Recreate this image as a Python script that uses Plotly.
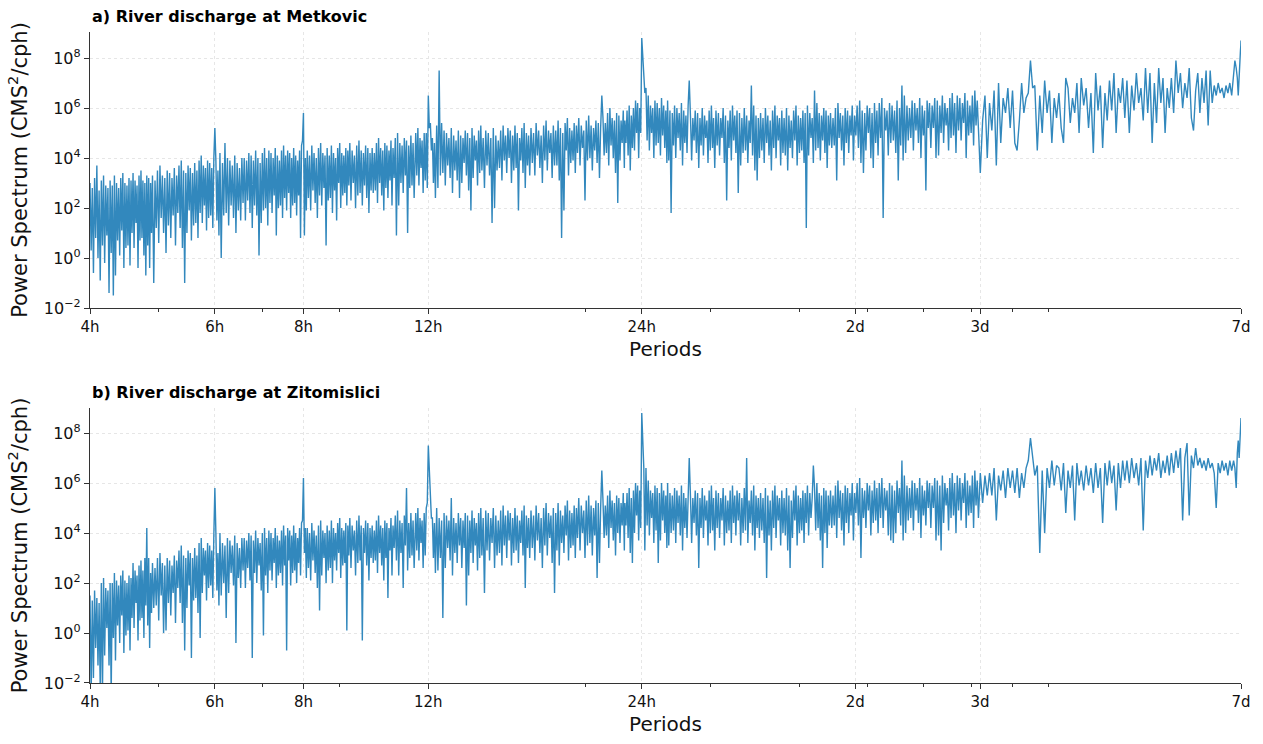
import math
import plotly.graph_objects as go

# Periods (hours) at which the spectra are sampled
period_hours = [
    4.000, 4.015, 4.030, 4.045, 4.060, 4.075, 4.090, 4.105, 4.120, 4.135, 4.150, 4.165, 4.180, 4.195, 4.210, 4.225, 4.240, 4.255, 4.270, 4.285,
    4.300, 4.315, 4.330, 4.345, 4.360, 4.375, 4.390, 4.405, 4.420, 4.435, 4.450, 4.465, 4.480, 4.495, 4.510, 4.525, 4.540, 4.555, 4.570, 4.585,
    4.600, 4.615, 4.630, 4.645, 4.660, 4.675, 4.690, 4.705, 4.720, 4.735, 4.750, 4.765, 4.780, 4.795, 4.810, 4.825, 4.840, 4.855, 4.870, 4.885,
    4.90, 4.92, 4.94, 4.96, 4.98, 5.00, 5.02, 5.04, 5.06, 5.08, 5.10, 5.12, 5.14, 5.16, 5.18, 5.20, 5.22, 5.24, 5.26, 5.28,
    5.30, 5.32, 5.34, 5.36, 5.38, 5.40, 5.42, 5.44, 5.46, 5.48, 5.50, 5.52, 5.54, 5.56, 5.58, 5.60, 5.62, 5.64, 5.66, 5.68,
    5.70, 5.72, 5.74, 5.76, 5.78, 5.80, 5.82, 5.84, 5.86, 5.88, 5.90, 5.92, 5.94, 5.96, 5.98, 6.00, 6.02, 6.04, 6.06, 6.08,
    6.100, 6.125, 6.150, 6.175, 6.200, 6.225, 6.250, 6.275, 6.300, 6.325, 6.350, 6.375, 6.400, 6.425, 6.450, 6.475, 6.500, 6.525, 6.550, 6.575,
    6.600, 6.625, 6.650, 6.675, 6.700, 6.725, 6.750, 6.775, 6.800, 6.825, 6.850, 6.875, 6.900, 6.925, 6.950, 6.975, 7.000, 7.025, 7.050, 7.075,
    7.100, 7.125, 7.150, 7.175, 7.200, 7.225, 7.250, 7.275, 7.300, 7.325, 7.350, 7.375, 7.400, 7.425, 7.450, 7.475, 7.500, 7.525, 7.550, 7.575,
    7.600, 7.625, 7.650, 7.675, 7.700, 7.725, 7.750, 7.775, 7.800, 7.825, 7.850, 7.875, 7.900, 7.925, 7.950, 7.975, 8.000, 8.025, 8.050, 8.075,
    8.10, 8.13, 8.16, 8.19, 8.22, 8.25, 8.28, 8.31, 8.34, 8.37, 8.40, 8.43, 8.46, 8.49, 8.52, 8.55, 8.58, 8.61, 8.64, 8.67,
    8.70, 8.73, 8.76, 8.79, 8.82, 8.85, 8.88, 8.91, 8.94, 8.97, 9.00, 9.03, 9.06, 9.09, 9.12, 9.15, 9.18, 9.21, 9.24, 9.27,
    9.300, 9.335, 9.370, 9.405, 9.440, 9.475, 9.510, 9.545, 9.580, 9.615, 9.650, 9.685, 9.720, 9.755, 9.790, 9.825, 9.860, 9.895, 9.930, 9.965,
    10.000, 10.035, 10.070, 10.105, 10.140, 10.175, 10.210, 10.245, 10.280, 10.315, 10.350, 10.385, 10.420, 10.455, 10.490, 10.525, 10.560, 10.595, 10.630, 10.665,
    10.70, 10.74, 10.78, 10.82, 10.86, 10.90, 10.94, 10.98, 11.02, 11.06, 11.10, 11.14, 11.18, 11.22, 11.26, 11.30, 11.34, 11.38, 11.42, 11.46,
    11.52, 11.56, 11.60, 11.64, 11.68, 11.72, 11.76, 11.80, 11.84, 11.88, 11.92, 11.96, 12.00, 12.04, 12.08, 12.12, 12.16, 12.20, 12.24, 12.28,
    12.33, 12.38, 12.43, 12.48, 12.53, 12.58, 12.63, 12.68, 12.73, 12.78, 12.83, 12.88, 12.93, 12.98, 13.03, 13.08, 13.13, 13.18, 13.23, 13.28,
    13.33, 13.38, 13.43, 13.48, 13.53, 13.58, 13.63, 13.68, 13.73, 13.78, 13.83, 13.88, 13.93, 13.98, 14.03, 14.08, 14.13, 14.18, 14.23, 14.28,
    14.34, 14.40, 14.46, 14.52, 14.58, 14.64, 14.70, 14.76, 14.82, 14.88, 14.94, 15.00, 15.06, 15.12, 15.18, 15.24, 15.30, 15.36, 15.42, 15.48,
    15.54, 15.60, 15.66, 15.72, 15.78, 15.84, 15.90, 15.96, 16.02, 16.08, 16.14, 16.20, 16.26, 16.32, 16.38, 16.44, 16.50, 16.56, 16.62, 16.68,
    16.75, 16.82, 16.89, 16.96, 17.03, 17.10, 17.17, 17.24, 17.31, 17.38, 17.45, 17.52, 17.59, 17.66, 17.73, 17.80, 17.87, 17.94, 18.01, 18.08,
    18.15, 18.22, 18.29, 18.36, 18.43, 18.50, 18.57, 18.64, 18.71, 18.78, 18.85, 18.92, 18.99, 19.06, 19.13, 19.20, 19.27, 19.34, 19.41, 19.48,
    19.56, 19.64, 19.72, 19.80, 19.88, 19.96, 20.04, 20.12, 20.20, 20.28, 20.36, 20.44, 20.52, 20.60, 20.68, 20.76, 20.84, 20.92, 21.00, 21.08,
    21.16, 21.24, 21.32, 21.40, 21.48, 21.56, 21.64, 21.72, 21.80, 21.88, 21.96, 22.04, 22.12, 22.20, 22.28, 22.36, 22.44, 22.52, 22.60, 22.68,
    22.72, 22.80, 22.88, 22.96, 23.04, 23.12, 23.20, 23.28, 23.36, 23.44, 23.52, 23.60, 23.68, 23.76, 23.84, 23.92, 24.00, 24.08, 24.16, 24.24,
    24.33, 24.42, 24.51, 24.60, 24.69, 24.78, 24.87, 24.96, 25.05, 25.14, 25.23, 25.32, 25.41, 25.50, 25.59, 25.68, 25.77, 25.86, 25.95, 26.04,
    26.10, 26.20, 26.30, 26.40, 26.50, 26.60, 26.70, 26.80, 26.90, 27.00, 27.10, 27.20, 27.30, 27.40, 27.50, 27.60, 27.70, 27.80, 27.90, 28.00,
    28.11, 28.22, 28.33, 28.44, 28.55, 28.66, 28.77, 28.88, 28.99, 29.10, 29.21, 29.32, 29.43, 29.54, 29.65, 29.76, 29.87, 29.98, 30.09, 30.20,
    30.30, 30.42, 30.54, 30.66, 30.78, 30.90, 31.02, 31.14, 31.26, 31.38, 31.50, 31.62, 31.74, 31.86, 31.98, 32.10, 32.22, 32.34, 32.46, 32.58,
    32.70, 32.83, 32.96, 33.09, 33.22, 33.35, 33.48, 33.61, 33.74, 33.87, 34.00, 34.13, 34.26, 34.39, 34.52, 34.65, 34.78, 34.91, 35.04, 35.17,
    35.30, 35.44, 35.58, 35.72, 35.86, 36.00, 36.14, 36.28, 36.42, 36.56, 36.70, 36.84, 36.98, 37.12, 37.26, 37.40, 37.54, 37.68, 37.82, 37.96,
    38.10, 38.25, 38.40, 38.55, 38.70, 38.85, 39.00, 39.15, 39.30, 39.45, 39.60, 39.75, 39.90, 40.05, 40.20, 40.35, 40.50, 40.65, 40.80, 40.95,
    41.10, 41.26, 41.42, 41.58, 41.74, 41.90, 42.06, 42.22, 42.38, 42.54, 42.70, 42.86, 43.02, 43.18, 43.34, 43.50, 43.66, 43.82, 43.98, 44.14,
    44.30, 44.48, 44.66, 44.84, 45.02, 45.20, 45.38, 45.56, 45.74, 45.92, 46.10, 46.28, 46.46, 46.64, 46.82, 47.00, 47.18, 47.36, 47.54, 47.72,
    47.90, 48.10, 48.30, 48.50, 48.70, 48.90, 49.10, 49.30, 49.50, 49.70, 49.90, 50.10, 50.30, 50.50, 50.70, 50.90, 51.10, 51.30, 51.50, 51.70,
    51.90, 52.12, 52.34, 52.56, 52.78, 53.00, 53.22, 53.44, 53.66, 53.88, 54.10, 54.32, 54.54, 54.76, 54.98, 55.20, 55.42, 55.64, 55.86, 56.08,
    56.30, 56.54, 56.78, 57.02, 57.26, 57.50, 57.74, 57.98, 58.22, 58.46, 58.70, 58.94, 59.18, 59.42, 59.66, 59.90, 60.14, 60.38, 60.62, 60.86,
    61.10, 61.36, 61.62, 61.88, 62.14, 62.40, 62.66, 62.92, 63.18, 63.44, 63.70, 63.96, 64.22, 64.48, 64.74, 65.00, 65.26, 65.52, 65.78, 66.04,
    66.30, 66.58, 66.86, 67.14, 67.42, 67.70, 67.98, 68.26, 68.54, 68.82, 69.10, 69.38, 69.66, 69.94, 70.22, 70.50, 70.78, 71.06, 71.34, 71.62,
    72.05, 72.60, 73.15, 73.70,
    74.25, 74.80, 75.35, 75.90, 76.45, 77.00, 77.60, 78.20, 78.80, 79.40,
    80.00, 80.60, 81.20, 81.80, 82.40, 83.00, 83.60, 84.20, 84.80, 85.40,
    86.00, 86.70, 87.40, 88.10, 88.80, 89.50, 90.20, 90.90, 91.60, 92.30,
    93.00, 93.70, 94.40, 95.10, 95.80, 96.50, 97.20, 97.90, 98.60, 99.30,
    100.0, 100.8, 101.6, 102.4, 103.2, 104.0, 104.8, 105.6, 106.4, 107.2,
    108.0, 108.8, 109.6, 110.4, 111.2, 112.0, 112.8, 113.6, 114.4, 115.2,
    116.0, 116.9, 117.8, 118.7, 119.6, 120.5, 121.4, 122.3, 123.2, 124.1,
    125.0, 125.9, 126.8, 127.7, 128.6, 129.5, 130.4, 131.3, 132.2, 133.1,
    134.0, 135.0, 136.0, 137.0, 138.0, 139.0, 140.0, 141.0, 142.0, 143.0,
    144.0, 145.0, 146.0, 147.0, 148.0, 149.0, 150.0, 151.0, 152.0, 153.0,
    154.0, 155.0, 156.0, 157.0, 158.0, 159.0, 160.0, 161.0, 162.0, 163.0,
    164.0, 164.7, 165.4, 166.0, 166.5, 167.0, 167.4, 167.7, 167.9, 168.0,
]

# log10 of power spectrum (CMS^2/cph) (Metkovic)
log10_power_metkovic = [
    3.0, 0.3, 2.8, -0.6, 3.2, 0.8, 3.7, 0.0, 2.7, -0.9, 3.1, 0.5, 3.3, -0.2, 2.9, 0.9, 2.8, -1.4, 3.1, 0.2,
    2.9, -1.5, 3.3, -0.7, 3.0, 0.7, 2.8, 0.1, 3.2, 1.1, 3.4, -0.4, 3.0, 0.4, 2.9, 0.5, 3.2, -0.3, 3.1, 1.0,
    3.4, 0.4, 3.1, 1.4, 2.9, -0.4, 3.3, 0.7, 3.5, 0.8, 3.1, 0.1, 3.0, -0.7, 3.3, 0.5, 3.2, -0.4, 3.0, 1.0,
    3.3, -1.0, 3.1, 1.2, 3.5, 0.6, 3.7, 1.6, 3.3, 1.0, 3.2, 0.2, 3.5, 1.3, 3.4, 0.8, 3.2, 1.7, 3.6, 0.5,
    3.3, 1.8, 3.7, 1.2, 3.9, 0.4, 3.5, -1.0, 3.4, 1.0, 3.7, 1.9, 3.6, 0.7, 3.4, 1.3, 3.8, 1.4, 3.5, 0.8,
    3.9, 1.8, 4.1, 1.4, 3.7, 2.1, 3.6, 1.1, 3.9, 1.6, 3.8, 1.7, 3.6, 1.2, 4.0, 5.2, 3.9, 1.5, 3.5, 0.9,
    4.2, 0.0, 3.8, 1.7, 4.6, 1.8, 4.0, 1.3, 3.9, 2.1, 3.7, 1.6, 4.1, 1.0, 3.8, 1.9, 3.6, 1.5, 4.0, 2.2,
    4.0, 1.5, 3.9, 2.3, 4.2, 1.8, 4.1, 1.2, 3.9, 2.1, 4.3, 1.7, 4.0, 0.1, 3.8, 1.4, 4.2, 1.9, 4.4, 2.0,
    4.0, 1.3, 4.3, 2.2, 4.2, 1.8, 4.0, 2.5, 4.4, 0.9, 4.1, 2.0, 3.9, 2.1, 4.3, 1.6, 4.5, 2.4, 4.1, 1.9,
    4.3, 2.6, 4.2, 1.6, 4.0, 2.1, 4.4, 2.2, 4.1, 1.7, 3.9, 2.5, 4.3, 0.8, 4.5, 4.7, 5.8, 0.9, 4.0, 1.9,
    4.3, 2.4, 4.1, 1.9, 4.5, 2.7, 4.2, 2.2, 4.0, 1.6, 4.4, 2.5, 4.6, 2.1, 4.2, 2.8, 4.1, 0.5, 4.4, 2.3,
    4.1, 2.4, 4.5, 1.8, 4.2, 2.7, 4.0, 1.5, 4.4, 3.0, 4.6, 2.0, 4.2, 2.5, 4.1, 2.6, 4.4, 2.1, 4.3, 2.9,
    4.6, 2.3, 4.3, 3.0, 4.1, 2.0, 4.5, 2.5, 4.7, 2.6, 4.3, 2.1, 4.2, 2.9, 4.5, 2.4, 4.4, 1.8, 4.2, 2.7,
    4.4, 2.6, 4.2, 2.7, 4.6, 2.2, 4.8, 3.0, 4.4, 2.5, 4.3, 1.9, 4.6, 2.8, 4.5, 2.4, 4.3, 3.1, 4.7, 2.1,
    4.4, 3.2, 4.8, 0.9, 5.0, 2.1, 4.6, 3.0, 4.5, 2.6, 4.8, 3.3, 4.7, 1.0, 4.5, 2.8, 4.9, 2.9, 4.6, 2.4,
    5.0, 3.3, 5.2, 2.9, 4.8, 3.6, 4.7, 2.6, 5.0, 3.1, 5.0, 2.8, 6.5, 5.2, 5.4, 4.3, 4.8, 3.0, 4.6, 2.4,
    5.3, 2.8, 7.5, 3.3, 5.4, 3.4, 5.1, 2.9, 5.0, 3.7, 4.8, 3.2, 5.2, 2.6, 4.9, 3.5, 4.7, 3.1, 5.1, 2.4,
    4.9, 3.0, 4.8, 3.8, 5.1, 3.3, 5.0, 2.7, 4.8, 1.9, 5.2, 3.2, 4.9, 3.9, 4.7, 2.9, 5.1, 3.4, 5.3, 3.5,
    4.8, 2.8, 5.1, 3.7, 5.0, 3.3, 4.8, 1.4, 5.2, 2.0, 4.9, 3.5, 4.7, 3.6, 5.1, 3.1, 5.3, 3.9, 4.9, 3.4,
    5.2, 4.0, 5.1, 3.0, 4.9, 3.5, 5.3, 3.6, 5.0, 1.9, 4.8, 3.9, 5.2, 3.4, 5.4, 2.8, 5.0, 3.7, 4.9, 3.3,
    5.2, 3.8, 5.0, 3.3, 5.4, 4.1, 5.1, 3.6, 4.9, 3.0, 5.3, 3.9, 5.5, 3.5, 5.1, 4.2, 5.0, 3.2, 5.3, 3.7,
    5.1, 3.7, 5.5, 3.1, 5.2, 0.8, 5.0, 1.9, 5.4, 4.3, 5.6, 3.3, 5.2, 3.8, 5.1, 3.9, 5.4, 3.4, 5.3, 4.2,
    5.6, 3.7, 5.3, 4.4, 5.1, 2.3, 5.5, 3.9, 5.7, 4.0, 5.3, 3.5, 5.2, 4.3, 5.5, 3.8, 5.4, 3.2, 5.2, 6.5,
    5.6, 4.1, 5.4, 4.2, 5.8, 3.7, 6.0, 4.5, 5.6, 4.0, 5.5, 3.4, 5.8, 2.2, 5.7, 3.9, 5.5, 4.6, 5.9, 3.6,
    5.5, 4.6, 5.9, 4.1, 6.1, 3.5, 5.7, 4.4, 6.0, 4.3, 6.3, 5.0, 6.2, 4.0, 6.0, 5.0, 8.8, 7.9, 7.0, 6.6,
    6.8, 4.7, 6.5, 4.3, 6.1, 5.0, 6.0, 4.0, 6.3, 4.5, 6.2, 4.6, 6.0, 4.1, 6.4, 4.9, 6.1, 4.4, 5.9, 3.8,
    6.3, 3.9, 5.9, 1.8, 5.8, 4.5, 6.1, 4.0, 6.0, 4.8, 5.8, 4.3, 6.2, 3.7, 5.9, 4.6, 5.7, 4.2, 6.1, 7.1,
    5.7, 3.9, 5.6, 4.7, 5.9, 4.2, 5.8, 3.6, 5.6, 4.5, 6.0, 4.1, 5.7, 4.8, 5.5, 3.8, 5.9, 4.3, 6.1, 4.4,
    5.6, 3.6, 5.9, 4.5, 5.8, 4.1, 5.6, 4.8, 6.0, 3.8, 5.7, 2.3, 5.5, 4.4, 5.9, 3.9, 6.1, 4.7, 5.7, 4.2,
    5.9, 2.6, 5.8, 3.7, 5.6, 4.2, 6.0, 4.3, 5.7, 3.8, 5.5, 4.6, 6.9, 4.1, 6.1, 3.5, 5.7, 3.1, 5.6, 4.0,
    5.8, 4.3, 5.6, 3.8, 6.0, 4.6, 5.7, 4.1, 5.5, 3.5, 5.9, 4.4, 6.1, 4.0, 5.7, 4.7, 5.6, 3.7, 5.9, 4.2,
    5.6, 4.1, 6.0, 3.5, 5.7, 4.4, 5.5, 4.0, 5.9, 4.7, 6.1, 3.7, 5.7, 4.2, 5.6, 4.3, 5.9, 3.8, 5.8, 1.2,
    6.1, 4.1, 5.8, 4.8, 5.6, 3.8, 6.7, 4.3, 6.2, 4.4, 5.8, 3.9, 5.7, 4.7, 6.0, 4.2, 5.9, 3.6, 5.7, 4.5,
    5.8, 4.4, 5.6, 4.5, 6.0, 3.1, 6.2, 4.8, 5.8, 4.3, 5.7, 3.7, 6.0, 4.6, 5.9, 4.2, 5.7, 4.9, 6.1, 3.9,
    5.7, 4.9, 6.1, 4.4, 6.3, 3.8, 5.9, 3.4, 5.8, 4.3, 6.1, 5.0, 6.0, 4.0, 5.8, 3.6, 6.2, 4.6, 5.9, 4.1,
    6.2, 4.8, 6.4, 1.6, 6.0, 5.1, 5.9, 4.1, 6.2, 4.6, 6.1, 4.7, 5.9, 4.2, 6.3, 3.1, 6.0, 4.5, 6.9, 3.9,
    6.5, 4.2, 6.1, 4.7, 6.0, 4.8, 6.3, 4.3, 6.2, 5.1, 6.0, 4.6, 6.4, 4.0, 6.1, 4.9, 5.9, 2.7, 6.3, 5.2,
    6.2, 4.4, 6.1, 5.2, 6.4, 4.0, 6.3, 4.1, 6.1, 5.0, 6.5, 4.6, 6.2, 5.3, 6.0, 4.3, 6.4, 4.8, 6.6, 4.9,
    6.2, 4.2, 6.5, 5.1, 6.4, 4.7, 6.2, 5.4, 6.6, 4.0, 6.3, 4.9, 6.1, 5.0, 6.5, 4.5, 6.7, 5.3, 6.3, 4.8,
    3.4, 5.5, 6.5, 4.0,
    6.2, 5.1, 6.7, 3.7, 7.0, 4.6, 6.4, 5.8, 6.8, 5.2,
    6.7, 4.6, 4.3, 5.5, 7.0, 5.8, 6.4, 6.6, 7.9, 6.8,
    6.9, 4.3, 6.5, 5.0, 7.1, 5.8, 6.7, 4.6, 6.4, 5.6,
    6.6, 5.2, 4.6, 7.2, 6.8, 5.4, 6.4, 5.8, 7.0, 5.0,
    7.2, 6.1, 6.8, 5.2, 6.6, 4.2, 7.4, 5.9, 6.9, 4.4,
    6.6, 5.5, 7.1, 5.9, 7.4, 5.0, 6.8, 6.2, 7.2, 5.6,
    7.1, 5.0, 6.9, 5.9, 7.4, 6.2, 6.8, 5.5, 7.6, 5.8,
    7.4, 4.6, 7.0, 5.4, 7.6, 6.2, 7.2, 5.0, 6.8, 6.0,
    7.2, 5.8, 7.9, 6.6, 7.4, 6.0, 7.0, 6.4, 7.6, 5.6,
    5.1, 6.7, 7.4, 5.8, 7.2, 6.2, 7.5, 5.3, 7.5, 6.2,
    6.9, 6.5, 7.0, 6.6, 6.8, 6.4, 6.9, 6.6, 7.0, 6.5,
    7.4, 7.9, 7.6, 7.2, 6.5, 7.6, 8.0, 8.3, 8.5, 8.7,
]

# log10 of power spectrum (CMS^2/cph) (Zitomislici)
log10_power_zitomislici = [
    1.5, -2.5, 1.3, -1.8, 1.7, -0.6, 1.4, -1.3, 1.2, -2.2, 2.0, -2.5, 2.2, -0.9, 1.8, 0.2, 1.7, -1.3, 2.0, -2.5,
    2.0, -0.2, 2.4, -1.1, 2.1, 0.3, 1.9, -0.4, 2.3, 0.7, 2.5, -0.8, 2.1, -0.1, 2.0, 0.1, 2.3, -0.7, 2.2, 0.6,
    2.8, 0.2, 2.5, 1.2, 2.3, -0.3, 2.7, 0.5, 2.9, 0.6, 2.5, -0.2, 3.0, 1.1, 4.2, 0.3, 3.0, -0.6, 2.4, 0.8,
    2.8, 1.0, 2.6, 1.1, 3.0, 0.5, 3.2, 1.5, 2.8, 0.0, 2.7, 0.1, 3.0, 1.2, 2.9, 0.7, 2.7, 1.6, 3.1, 0.4,
    2.9, 1.8, 3.3, 1.2, 3.5, 0.4, 3.1, -0.7, 3.0, 1.0, 3.3, 1.9, 3.2, -1.0, 3.0, 1.3, 3.4, 1.4, 3.1, 0.8,
    3.6, -0.2, 3.8, 1.6, 3.4, 2.3, 3.3, 1.3, 3.6, 1.8, 3.5, 1.9, 3.3, 1.4, 3.9, 5.8, 4.0, 1.7, 3.2, 1.1,
    4.0, 1.5, 3.6, 2.0, 3.5, 0.6, 3.8, 1.6, 3.7, 2.4, 3.5, 1.9, 3.9, -0.4, 3.6, 2.2, 3.4, 1.8, 3.8, 2.5,
    3.8, 1.8, 3.7, 2.6, 4.0, 2.1, 3.9, -1.0, 3.7, 2.4, 4.1, 2.0, 3.8, 2.7, 3.6, 1.7, 4.0, -0.1, 4.2, 2.3,
    3.8, 1.6, 4.1, 2.5, 4.0, 2.1, 3.8, 2.8, 4.2, 1.8, 3.9, 2.3, 3.7, 2.4, 4.1, 1.9, 4.3, 2.7, 3.9, -0.7,
    4.2, 2.9, 4.1, 1.9, 3.9, 2.4, 4.3, 2.5, 4.0, 2.0, 3.8, 2.8, 4.2, 2.3, 4.4, 4.5, 6.2, 3.2, 4.2, 2.2,
    4.2, 2.6, 4.0, 2.1, 4.4, 2.9, 4.1, 2.4, 3.9, 1.8, 4.3, 0.9, 4.5, 2.3, 4.1, 3.0, 4.0, 2.0, 4.3, 2.5,
    4.1, 2.6, 4.5, 2.0, 4.2, 2.9, 4.0, 2.5, 4.4, 3.2, 4.6, 2.2, 4.2, 2.7, 4.1, 2.8, 4.4, 0.1, 4.3, 3.1,
    4.6, 2.6, 4.3, 3.3, 4.1, 2.3, 4.5, 2.8, 4.7, 2.9, 4.3, -0.3, 4.2, 3.2, 4.5, 2.7, 4.4, 2.1, 4.2, 3.0,
    4.3, 2.8, 4.1, 2.9, 4.5, 2.4, 4.7, 3.2, 4.3, 2.7, 4.2, 2.1, 4.5, 3.0, 4.4, 1.4, 4.2, 3.3, 4.6, 2.3,
    4.3, 3.4, 4.7, 2.9, 4.9, 2.3, 4.5, 3.2, 4.4, 1.8, 4.7, 3.5, 5.8, 2.5, 4.4, 3.0, 4.8, 3.1, 4.5, 2.6,
    4.8, 3.3, 5.0, 2.9, 4.6, 3.6, 4.5, 2.6, 4.8, 3.1, 5.0, 5.2, 7.5, 6.6, 5.3, 4.6, 4.6, 3.0, 4.4, 2.4,
    5.0, 2.5, 4.6, 3.0, 4.5, 0.6, 4.8, 2.6, 4.7, 3.4, 4.5, 2.9, 5.4, 2.3, 4.6, 3.2, 4.4, 2.8, 4.8, 3.5,
    4.6, 2.6, 4.5, 3.4, 4.8, 1.1, 4.7, 2.3, 4.5, 3.2, 4.9, 2.8, 4.6, 3.5, 4.4, 2.5, 4.8, 3.0, 5.0, 3.1,
    4.6, 1.6, 4.9, 3.3, 4.8, 2.9, 4.6, 3.6, 5.0, 2.6, 4.7, 3.1, 4.5, 3.2, 4.9, 2.7, 5.1, 3.5, 4.7, 3.0,
    4.9, 3.7, 4.8, 2.7, 4.6, 3.2, 5.0, 3.3, 4.7, 2.8, 4.5, 3.6, 4.9, 3.1, 5.1, 1.8, 4.7, 3.4, 4.6, 3.0,
    4.9, 3.4, 4.7, 2.9, 5.1, 3.7, 4.8, 3.2, 4.6, 2.6, 5.0, 3.5, 5.2, 3.1, 4.8, 3.8, 4.7, 2.8, 5.0, 1.6,
    4.8, 3.3, 5.2, 2.7, 4.9, 3.6, 4.7, 3.2, 5.1, 3.9, 5.3, 2.9, 4.9, 3.4, 4.8, 3.5, 5.1, 3.0, 5.0, 3.8,
    5.4, 3.3, 5.1, 4.0, 4.9, 3.0, 5.3, 3.5, 5.5, 3.6, 5.1, 3.1, 5.0, 3.9, 5.3, 2.2, 5.2, 2.8, 5.0, 6.5,
    5.3, 3.8, 5.1, 3.9, 5.5, 3.4, 5.7, 4.2, 5.3, 3.7, 5.2, 3.1, 5.5, 4.0, 5.4, 3.6, 5.2, 4.3, 5.6, 3.3,
    5.2, 4.3, 5.6, 3.8, 5.8, 3.2, 5.4, 2.8, 5.7, 4.0, 6.0, 4.7, 5.9, 3.7, 5.7, 4.2, 8.8, 7.8, 6.6, 3.3,
    6.6, 4.3, 6.1, 3.9, 5.7, 4.6, 5.6, 3.6, 5.9, 4.1, 5.8, 2.8, 5.6, 3.7, 6.0, 4.5, 5.7, 4.0, 5.5, 3.4,
    6.0, 3.5, 5.6, 4.0, 5.5, 4.1, 5.8, 3.6, 5.7, 4.4, 5.5, 3.9, 5.9, 3.3, 5.6, 4.2, 5.4, 3.8, 5.8, 7.0,
    5.5, 3.6, 5.4, 4.4, 5.7, 3.9, 5.6, 2.6, 5.4, 4.2, 5.8, 3.8, 5.5, 4.5, 5.3, 3.5, 5.7, 4.0, 5.9, 4.1,
    5.4, 3.3, 5.7, 4.2, 5.6, 3.8, 5.4, 4.5, 5.8, 3.5, 5.5, 4.0, 5.3, 4.1, 5.7, 3.6, 5.9, 4.4, 5.5, 3.9,
    5.7, 4.5, 5.6, 3.5, 5.4, 4.0, 5.8, 4.1, 7.0, 3.6, 5.3, 4.4, 5.7, 3.9, 5.9, 3.3, 5.5, 4.2, 5.4, 3.8,
    5.6, 4.1, 5.4, 3.6, 5.8, 2.2, 5.5, 3.9, 5.3, 3.3, 5.7, 4.2, 5.9, 3.8, 5.5, 4.5, 5.4, 3.5, 5.7, 4.0,
    5.4, 3.9, 5.8, 3.3, 5.5, 2.6, 5.3, 3.8, 5.7, 4.5, 5.9, 3.5, 5.5, 4.0, 5.4, 4.1, 5.7, 3.6, 5.6, 4.4,
    5.9, 3.9, 5.6, 4.6, 5.4, 6.7, 5.8, 4.1, 6.0, 4.2, 5.6, 3.7, 5.5, 2.6, 5.8, 4.0, 5.7, 3.4, 5.5, 4.3,
    5.7, 4.2, 5.5, 4.3, 5.9, 3.8, 6.1, 4.6, 5.7, 4.1, 5.6, 3.5, 5.9, 4.4, 5.8, 4.0, 5.6, 4.7, 6.0, 3.7,
    5.6, 4.8, 6.0, 4.3, 6.2, 3.0, 5.8, 4.6, 5.7, 4.2, 6.0, 4.9, 5.9, 3.9, 5.7, 4.4, 6.1, 4.5, 5.8, 4.0,
    6.0, 4.6, 6.2, 4.2, 5.8, 4.9, 5.7, 3.9, 6.0, 3.7, 5.9, 3.6, 5.7, 4.0, 6.1, 4.8, 5.8, 4.3, 6.9, 3.7,
    6.3, 4.0, 5.9, 4.5, 5.8, 4.6, 6.1, 4.1, 6.0, 4.9, 5.8, 4.4, 6.2, 3.8, 5.9, 4.7, 5.7, 4.3, 6.1, 5.0,
    6.0, 4.2, 5.9, 5.0, 6.2, 3.7, 6.1, 3.9, 5.9, 3.3, 6.3, 4.4, 6.0, 5.1, 5.8, 4.1, 6.2, 4.6, 6.4, 4.7,
    6.0, 4.0, 6.3, 4.9, 6.2, 4.5, 6.0, 5.2, 6.4, 4.2, 6.1, 4.7, 5.9, 4.8, 6.3, 4.2, 6.5, 5.1, 6.1, 4.6,
    6.4, 5.2, 6.3, 5.5,
    6.4, 5.5, 6.6, 4.5, 6.3, 5.7, 6.5, 5.4, 6.6, 5.8,
    6.5, 5.6, 6.6, 5.4, 6.4, 5.8, 6.6, 6.9, 7.8, 7.1,
    6.3, 6.7, 3.2, 6.5, 4.0, 6.6, 5.8, 6.9, 5.9, 6.7,
    6.6, 5.7, 6.8, 4.8, 6.5, 5.8, 6.7, 4.5, 6.8, 5.9,
    6.5, 5.7, 6.7, 5.9, 6.6, 5.6, 6.8, 5.8, 6.6, 4.4,
    6.8, 5.9, 6.9, 6.0, 6.7, 4.9, 6.8, 5.8, 6.9, 6.1,
    6.9, 6.0, 7.0, 6.2, 6.8, 5.9, 7.0, 4.1, 6.9, 6.2,
    7.1, 6.3, 7.0, 6.5, 7.2, 6.2, 6.9, 6.4, 7.1, 6.3,
    7.2, 6.4, 7.3, 6.6, 7.4, 4.5, 7.0, 7.6, 4.7, 7.1,
    6.6, 7.4, 6.7, 7.0, 6.6, 6.9, 6.5, 7.0, 6.6, 6.8,
    6.4, 5.0, 6.8, 6.4, 6.9, 6.5, 6.8, 6.3, 6.9, 6.5,
    6.9, 6.6, 5.8, 7.2, 7.7, 7.0, 7.6, 8.0, 8.3, 8.6,
]

period_tick_values = [4, 6, 8, 12, 24, 48, 72, 168]
period_tick_labels = ["4h", "6h", "8h", "12h", "24h", "2d", "3d", "7d"]
period_minor_ticks = [5, 7, 9, 20, 30, 40, 50, 60, 70, 80, 90]
power_tick_values = [1e-2, 1e0, 1e2, 1e4, 1e6, 1e8]
power_tick_labels = ["10<sup>\u22122</sup>", "10<sup>0</sup>", "10<sup>2</sup>",
                     "10<sup>4</sup>", "10<sup>6</sup>", "10<sup>8</sup>"]
panel_titles = ["a) River discharge at Metkovic", "b) River discharge at Zitomislici"]

LINE_COLOR = "#3288bd"
FONT = "DejaVu Sans"
AXIS_COLOR = "#333333"
GRID_COLOR = "#e6e6e6"

fig = go.Figure()
for i, vals in enumerate([log10_power_metkovic, log10_power_zitomislici]):
    suffix = "" if i == 0 else "2"
    n = min(len(period_hours), len(vals))
    fig.add_trace(go.Scatter(
        x=period_hours[:n], y=[10 ** v for v in vals[:n]], mode="lines",
        line=dict(color=LINE_COLOR, width=1.4),
        xaxis="x" + suffix, yaxis="y" + suffix,
        showlegend=False, hoverinfo="skip",
    ))

x_range = [math.log10(4), math.log10(168)]


def xaxis_cfg(anchor):
    return dict(
        type="log", range=x_range, anchor=anchor,
        tickmode="array", tickvals=period_tick_values, ticktext=period_tick_labels,
        ticks="outside", ticklen=5, tickwidth=1, tickcolor=AXIS_COLOR,
        showline=True, linecolor=AXIS_COLOR, linewidth=1.3, mirror=False,
        showgrid=True, gridcolor=GRID_COLOR, griddash="dot", gridwidth=1,
        zeroline=False,
        tickfont=dict(family=FONT, size=15, color="#111111"),
        title=dict(text="Periods", font=dict(family=FONT, size=20, color="#111111"), standoff=6),
        minor=dict(tickmode="array", tickvals=period_minor_ticks, ticks="outside",
                   ticklen=3, tickwidth=1, tickcolor=AXIS_COLOR, showgrid=False),
    )


def yaxis_cfg(anchor, domain, top):
    return dict(
        type="log", range=[-2, top], domain=domain, anchor=anchor,
        tickmode="array", tickvals=power_tick_values, ticktext=power_tick_labels,
        ticks="outside", ticklen=5, tickwidth=1, tickcolor=AXIS_COLOR,
        showline=True, linecolor=AXIS_COLOR, linewidth=1.3, mirror=False,
        showgrid=True, gridcolor=GRID_COLOR, griddash="dot", gridwidth=1,
        zeroline=False,
        tickfont=dict(family=FONT, size=16, color="#111111"),
        title=dict(text="Power Spectrum (CMS<sup>2</sup>/cph)",
                   font=dict(family=FONT, size=21, color="#111111"), standoff=10),
    )


fig.update_layout(
    width=1263, height=744,
    margin=dict(l=90, r=22, t=32, b=61),
    paper_bgcolor="white", plot_bgcolor="white",
    font=dict(family=FONT, color="#111111"),
    xaxis=xaxis_cfg("y"),
    yaxis=yaxis_cfg("x", [0.576, 1.0], 9.04),
    xaxis2=xaxis_cfg("y2"),
    yaxis2=yaxis_cfg("x2", [0.0, 0.4224], 9.0),
)

for i, title in enumerate(panel_titles):
    suffix = "" if i == 0 else "2"
    fig.add_annotation(
        text="<b>" + title + "</b>",
        xref="x" + suffix + " domain", yref="y" + suffix + " domain",
        x=0, y=1, xanchor="left", yanchor="bottom", yshift=4,
        showarrow=False,
        font=dict(family=FONT, size=16, color="#000000"),
    )

fig.write_html("out.html")
